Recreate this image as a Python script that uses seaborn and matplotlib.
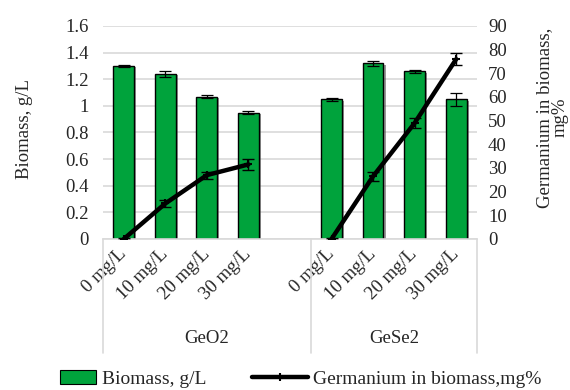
import matplotlib
matplotlib.use("Agg")
import matplotlib.pyplot as plt
import matplotlib.patheffects as pe
from matplotlib.lines import Line2D
from matplotlib.patches import Patch
import seaborn as sns
import pandas as pd

# ---- data -------------------------------------------------------------
groups = ["GeO2", "GeSe2"]
doses = ["0 mg/L", "10 mg/L", "20 mg/L", "30 mg/L"]

biomass_geo2 = [1.30, 1.24, 1.07, 0.95]
biomass_gese2 = [1.05, 1.32, 1.26, 1.05]
biomass_err_geo2 = [0.01, 0.02, 0.01, 0.01]
biomass_err_gese2 = [0.01, 0.02, 0.01, 0.05]

germanium_geo2 = [0.0, 15.0, 27.0, 31.5]
germanium_gese2 = [0.0, 26.5, 49.0, 76.0]
germanium_err_geo2 = [0.5, 1.5, 1.5, 2.5]
germanium_err_gese2 = [0.5, 2.0, 2.0, 2.5]

# ---- table: one empty slot separates the two compounds -----------------
rows = []
slot = 0
for grp, bio, bio_e, ge, ge_e in [
    ("GeO2", biomass_geo2, biomass_err_geo2, germanium_geo2, germanium_err_geo2),
    ("GeSe2", biomass_gese2, biomass_err_gese2, germanium_gese2, germanium_err_gese2),
]:
    for d, b, be, g, ge_ in zip(doses, bio, bio_e, ge, ge_e):
        rows.append(dict(key=f"{grp} {d}", group=grp, dose=d, pos=slot,
                         biomass=b, bio_err=be, ge=g, ge_err=ge_))
        slot += 1
    slot += 1  # gap after a compound
df = pd.DataFrame(rows)
order = [f"GeO2 {d}" for d in doses] + ["gap"] + [f"GeSe2 {d}" for d in doses]

# ---- style ------------------------------------------------------------
sns.set_theme(style="white")
plt.rcParams["font.family"] = ["Liberation Serif", "DejaVu Serif"]
FS = 13.5
GREEN = "#00A33C"
GRID = "#d9d9d9"

fig = plt.figure(figsize=(5.7, 3.9), dpi=100)
ax = fig.add_axes([0.1807, 0.3872, 0.6561, 0.5462])

sns.barplot(data=df, x="key", y="biomass", order=order, color=GREEN,
            saturation=1, width=0.5, edgecolor="black", linewidth=1.0,
            errorbar=None, ax=ax)
for bar in ax.patches:
    bar.set_path_effects([pe.SimplePatchShadow(offset=(1.5, -1), shadow_rgbFace="#555555", alpha=0.6),
                          pe.Normal()])
ax.errorbar(df["pos"], df["biomass"], yerr=df["bio_err"], fmt="none",
            ecolor="black", elinewidth=0.9, capsize=4, capthick=0.9, zorder=3)

ax.set_xlim(-0.5, 8.5)
ax.set_ylim(0, 1.6)
ax.set_yticks([0, 0.2, 0.4, 0.6, 0.8, 1.0, 1.2, 1.4, 1.6])
ax.set_yticklabels(["0", "0.2", "0.4", "0.6", "0.8", "1", "1.2", "1.4", "1.6"], fontsize=FS)
ax.yaxis.grid(True, color=GRID, lw=1.2)
ax.set_axisbelow(True)
ax.set_xticks(range(9))
ax.set_xticklabels(doses + [""] + doses, fontsize=FS, rotation=45,
                   ha="right", va="center", rotation_mode="anchor")
ax.tick_params(axis="both", length=0)
ax.tick_params(axis="x", pad=9)
ax.tick_params(axis="y", pad=10)
ax.set_xlabel("")
ax.set_ylabel("Biomass, g/L", fontsize=FS)
ax.yaxis.set_label_coords(-0.187, 0.516)
for s in ["top", "left", "right"]:
    ax.spines[s].set_visible(False)
ax.spines["bottom"].set_color(GRID)
ax.spines["bottom"].set_linewidth(1.2)

# ---- germanium content on secondary axis -------------------------------
ax2 = ax.twinx()
sns.lineplot(data=df, x="pos", y="ge", units="group", estimator=None,
             color="black", lw=3.2, marker="+", markersize=6,
             markeredgewidth=1.5, markeredgecolor="black",
             legend=False, ax=ax2)
ax2.errorbar(df["pos"], df["ge"], yerr=df["ge_err"], fmt="none",
             ecolor="black", elinewidth=1.0, capsize=4, capthick=1.0, zorder=4)
ax2.set_ylim(0, 90)
ax2.set_yticks(range(0, 91, 10))
ax2.set_yticklabels([str(v) for v in range(0, 91, 10)], fontsize=FS)
ax2.tick_params(axis="y", length=0, pad=8)
ax2.set_ylabel("Germanium in biomass,\nmg%", fontsize=FS, linespacing=0.9)
ax2.yaxis.set_label_coords(1.158, 0.57)
for s in ax2.spines.values():
    s.set_visible(False)
ax2.set_xlim(-0.5, 8.5)

# ---- multi-level category box and compound labels ----------------------
box_bottom = -0.535
for xf in [0.0, 5 / 9, 1.0]:
    ax.add_line(Line2D([xf, xf], [0, box_bottom], transform=ax.transAxes,
                       color=GRID, lw=1.2, clip_on=False))
ax.text(2.5 / 9, -0.465, "GeO2", transform=ax.transAxes, ha="center",
        va="center", fontsize=FS)
ax.text(7 / 9, -0.465, "GeSe2", transform=ax.transAxes, ha="center",
        va="center", fontsize=FS)

# ---- legend -------------------------------------------------------------
fig.legend(handles=[Patch(facecolor=GREEN, edgecolor="black", lw=0.8)],
           labels=["Biomass, g/L"], loc="center left",
           bbox_to_anchor=(60 / 570, 11 / 390), frameon=False,
           fontsize=14, handlelength=1.85, handletextpad=0.3,
           borderpad=0, borderaxespad=0)
fig.legend(handles=[Line2D([], [], color="black", lw=3.2, marker="+",
                           markersize=6, markeredgewidth=1.5)],
           labels=["Germanium in biomass,mg%"], loc="center left",
           bbox_to_anchor=(252 / 570, 11 / 390), frameon=False,
           fontsize=14, handlelength=2.9, handletextpad=0.25,
           borderpad=0, borderaxespad=0)

fig.savefig("out.png", dpi=100)
